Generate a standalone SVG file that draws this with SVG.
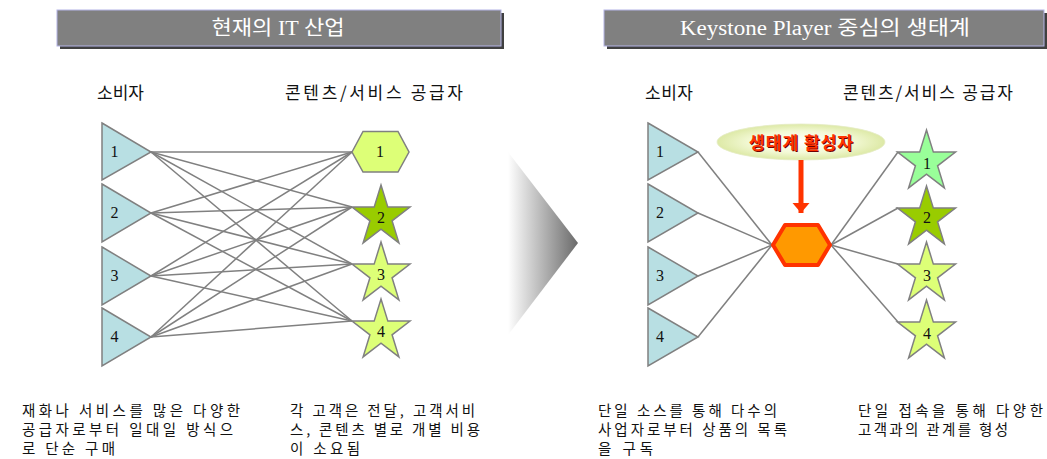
<svg xmlns="http://www.w3.org/2000/svg" xmlns:xlink="http://www.w3.org/1999/xlink" width="1047" height="459" viewBox="0 0 1047 459">
<style>
.title{font-family:"Liberation Serif","Noto Sans CJK KR",serif;font-size:20px;fill:#fff;text-anchor:middle}
.hdr{font-family:"Noto Sans CJK KR","Liberation Sans",sans-serif;font-size:17px;fill:#111}
.body{font-family:"Noto Sans CJK KR","Liberation Sans",sans-serif;font-size:14.5px;fill:#111}
.num{font-family:"Liberation Serif",serif;font-size:16px;fill:#111;text-anchor:middle}
.tri{fill:#b8dfe3;stroke:#808080;stroke-width:1.5}
.lime{fill:#ddff77;stroke:#808080;stroke-width:1.5}
.olive{fill:#99cc00;stroke:#808080;stroke-width:1.5}
.mint{fill:#99ff99;stroke:#808080;stroke-width:1.5}
.conn line{stroke:#808080;stroke-width:1.5}
</style>
<defs>
<path id="star" d="M0,-32 L6.85,-9.9 L29,-9.9 L11.07,3.78 L17.9,25.9 L0,12.2 L-17.9,25.9 L-11.07,3.78 L-29,-9.9 L-6.85,-9.9 Z"/>
<linearGradient id="arrowGrad" x1="0" y1="0" x2="1" y2="0">
<stop offset="0" stop-color="#ffffff"/>
<stop offset="1" stop-color="#6a6a6a"/>
</linearGradient>
<radialGradient id="ellGrad" cx="0.5" cy="0.5" r="0.5">
<stop offset="0" stop-color="#ffffff"/>
<stop offset="0.6" stop-color="#f3f9d6"/>
<stop offset="1" stop-color="#dde9a6"/>
</radialGradient>
<marker id="redHead" markerWidth="4" markerHeight="4" refX="2" refY="2" orient="auto" markerUnits="strokeWidth">
<path d="M0,0.3 L2,2 L0,3.7 Z" fill="#ff3300"/>
</marker>
</defs>
<rect width="1047" height="459" fill="#ffffff"/>

<!-- titles -->
<g id="title-left">
<rect x="60" y="13" width="444" height="36" fill="#404040"/>
<rect x="57" y="10" width="444" height="36" fill="#808080" stroke="#b4b4e6" stroke-width="1"/>
<text class="title" x="278" y="35" textLength="133" lengthAdjust="spacingAndGlyphs">현재의 IT 산업</text>
</g>
<g id="title-right">
<rect x="607" y="13" width="440" height="36" fill="#404040"/>
<rect x="604" y="10" width="440" height="36" fill="#808080" stroke="#b4b4e6" stroke-width="1"/>
<text class="title" x="825" y="35" textLength="290" lengthAdjust="spacingAndGlyphs">Keystone Player 중심의 생태계</text>
</g>

<!-- headers -->
<text class="hdr" x="97" y="99" textLength="47">소비자</text>
<text class="hdr" x="285" y="99" textLength="178">콘텐츠/서비스 공급자</text>
<text class="hdr" x="645" y="99" textLength="48">소비자</text>
<text class="hdr" x="843" y="99" textLength="170">콘텐츠/서비스 공급자</text>

<!-- middle arrow -->
<polygon id="transition-arrow" points="508,152 578,243 508,335" fill="url(#arrowGrad)"/>

<!-- connectors -->
<g id="connectors" class="conn">
<line x1="151" y1="152" x2="352" y2="152"/>
<line x1="151" y1="152" x2="352" y2="207"/>
<line x1="151" y1="152" x2="352" y2="264"/>
<line x1="151" y1="152" x2="352" y2="321"/>
<line x1="151" y1="213" x2="352" y2="152"/>
<line x1="151" y1="213" x2="352" y2="207"/>
<line x1="151" y1="213" x2="352" y2="264"/>
<line x1="151" y1="213" x2="352" y2="321"/>
<line x1="151" y1="276" x2="352" y2="152"/>
<line x1="151" y1="276" x2="352" y2="207"/>
<line x1="151" y1="276" x2="352" y2="264"/>
<line x1="151" y1="276" x2="352" y2="321"/>
<line x1="151" y1="337" x2="352" y2="152"/>
<line x1="151" y1="337" x2="352" y2="207"/>
<line x1="151" y1="337" x2="352" y2="264"/>
<line x1="151" y1="337" x2="352" y2="321"/>
<line x1="698" y1="152" x2="772" y2="245"/>
<line x1="698" y1="213" x2="772" y2="245"/>
<line x1="698" y1="276" x2="772" y2="245"/>
<line x1="698" y1="337" x2="772" y2="245"/>
<line x1="831" y1="245" x2="898" y2="152"/>
<line x1="831" y1="245" x2="898" y2="208"/>
<line x1="831" y1="245" x2="898" y2="264"/>
<line x1="831" y1="245" x2="898" y2="322"/>
</g>

<!-- left consumers -->
<g id="left-consumer-1"><polygon class="tri" points="102,123 151,152 102,180"/><text class="num" x="114.5" y="157">1</text></g>
<g id="left-consumer-2"><polygon class="tri" points="102,184 151,213 102,242"/><text class="num" x="114.5" y="218">2</text></g>
<g id="left-consumer-3"><polygon class="tri" points="102,247 151,276 102,305"/><text class="num" x="114.5" y="281">3</text></g>
<g id="left-consumer-4"><polygon class="tri" points="102,308 151,337 102,366"/><text class="num" x="114.5" y="342">4</text></g>

<!-- left providers -->
<g id="left-provider-1"><polygon class="lime" points="352,152 363,131.5 398,131.5 409,152 398,172 363,172"/><text class="num" x="380" y="157">1</text></g>
<g id="left-provider-2"><use href="#star" x="381" y="217" class="olive"/><text class="num" x="381" y="223">2</text></g>
<g id="left-provider-3"><use href="#star" x="381" y="274" class="lime"/><text class="num" x="381" y="280">3</text></g>
<g id="left-provider-4"><use href="#star" x="381" y="331" class="lime"/><text class="num" x="381" y="337">4</text></g>

<!-- right consumers -->
<g id="right-consumer-1"><polygon class="tri" points="648,123 698,152 648,180"/><text class="num" x="660" y="157">1</text></g>
<g id="right-consumer-2"><polygon class="tri" points="648,184 698,213 648,242"/><text class="num" x="660" y="218">2</text></g>
<g id="right-consumer-3"><polygon class="tri" points="648,247 698,276 648,305"/><text class="num" x="660" y="281">3</text></g>
<g id="right-consumer-4"><polygon class="tri" points="648,308 698,337 648,366"/><text class="num" x="660" y="342">4</text></g>

<!-- keystone -->
<g id="keystone-hub">
<polygon points="773,245 785,225 818,225 830,245 818,265 785,265" fill="#ff9900" stroke="#ff3300" stroke-width="4" stroke-linejoin="round"/>
</g>
<g id="activator">
<ellipse cx="801" cy="142" rx="84" ry="18" fill="url(#ellGrad)" stroke="#e6ecc6" stroke-width="0.8"/>
<text x="802" y="150" font-family="Noto Sans CJK KR, sans-serif" font-size="17" font-weight="bold" fill="#700000" text-anchor="middle" textLength="104">생태계 활성자</text>
<text x="801" y="149" font-family="Noto Sans CJK KR, sans-serif" font-size="17" font-weight="bold" fill="#ff3300" text-anchor="middle" textLength="104">생태계 활성자</text>
<line x1="801" y1="160" x2="801" y2="213" stroke="#ff3300" stroke-width="5" marker-end="url(#redHead)"/>
</g>

<!-- right providers -->
<g id="right-provider-1"><use href="#star" x="926.5" y="162" class="mint"/><text class="num" x="927" y="169">1</text></g>
<g id="right-provider-2"><use href="#star" x="926.5" y="218" class="olive"/><text class="num" x="927" y="223">2</text></g>
<g id="right-provider-3"><use href="#star" x="926.5" y="274" class="lime"/><text class="num" x="927" y="281">3</text></g>
<g id="right-provider-4"><use href="#star" x="926.5" y="332" class="lime"/><text class="num" x="927" y="339">4</text></g>

<!-- captions -->
<g id="caption-left-1">
<text class="body" x="22" y="416" textLength="218">재화나 서비스를 많은 다양한</text>
<text class="body" x="22" y="435" textLength="211">공급자로부터 일대일 방식으</text>
<text class="body" x="22" y="454" textLength="93">로 단순 구매</text>
</g>
<g id="caption-left-2">
<text class="body" x="290" y="416" textLength="185">각 고객은 전달, 고객서비</text>
<text class="body" x="290" y="435" textLength="190">스, 콘텐츠 별로 개별 비용</text>
<text class="body" x="290" y="454" textLength="70">이 소요됨</text>
</g>
<g id="caption-right-1">
<text class="body" x="598" y="416" textLength="179">단일 소스를 통해 다수의</text>
<text class="body" x="598" y="435" textLength="189">사업자로부터 상품의 목록</text>
<text class="body" x="598" y="454" textLength="55">을 구독</text>
</g>
<g id="caption-right-2">
<text class="body" x="858" y="416" textLength="185">단일 접속을 통해 다양한</text>
<text class="body" x="858" y="435" textLength="150">고객과의 관계를 형성</text>
</g>
</svg>
